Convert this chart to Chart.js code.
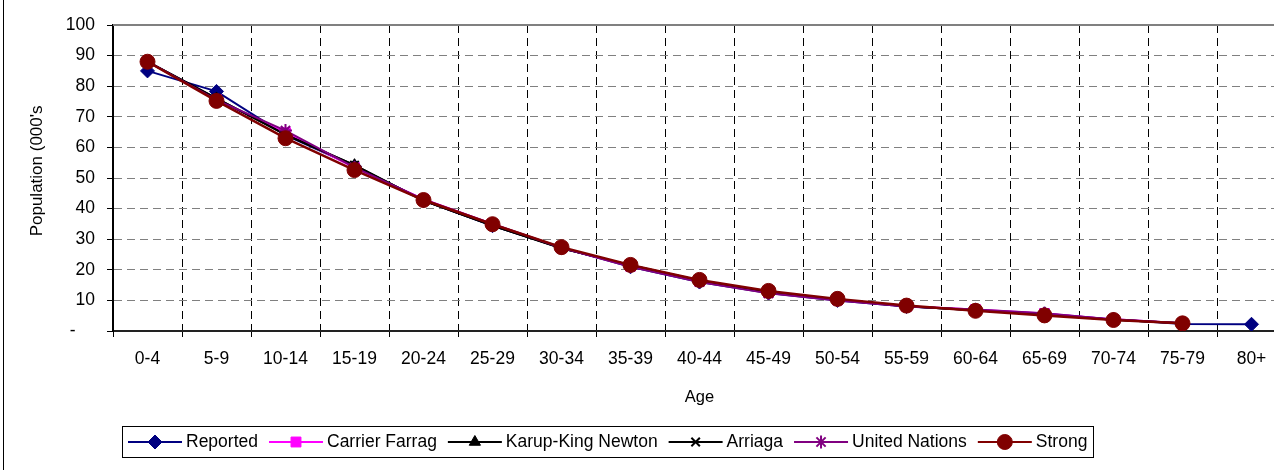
<!DOCTYPE html>
<html>
<head>
<meta charset="utf-8">
<script src="https://cdn.jsdelivr.net/npm/chart.js@4.4.0/dist/chart.umd.min.js"></script>
<style>
  html, body { margin: 0; padding: 0; background: #fff; overflow: hidden; width: 1274px; height: 470px; }
  canvas { display: block; }
</style>
</head>
<body>
<canvas id="c" width="1300" height="470"></canvas>
<script>
// Age groups on the x axis
const ageGroups = ['0-4', '5-9', '10-14', '15-19', '20-24', '25-29', '30-34', '35-39', '40-44',
                   '45-49', '50-54', '55-59', '60-64', '65-69', '70-74', '75-79', '80+'];

// Population (thousands) by method
const reported        = [85.0, 78.3, 64.0, 53.8, 42.6, 34.4, 27.3, 21.0, 16.0, 12.4, 10.0, 8.0, 6.9, 5.6, 3.8, 2.3, 2.2];
const carrierFarrag   = [88.0, 75.6, 64.8, 53.4, 43.1, 35.0, 27.2, 21.2, 16.3, 12.6, 10.2, 8.1, 7.0, 5.7, 3.8, 2.5, null];
const karupKingNewton = [88.0, 76.0, 64.2, 54.2, 42.6, 34.5, 27.0, 21.5, 16.5, 12.8, 10.2, 8.1, 6.8, 5.4, 3.7, 2.5, null];
const arriaga         = [88.0, 76.0, 64.2, 54.2, 42.6, 34.5, 27.0, 21.5, 16.5, 12.8, 10.2, 8.1, 6.8, 5.4, 3.7, 2.5, null];
const unitedNations   = [88.0, 75.5, 65.5, 53.5, 43.0, 35.0, 27.2, 21.0, 16.0, 12.3, 10.0, 8.0, 7.0, 5.8, 3.8, 2.5, null];
const strong          = [88.0, 75.2, 63.0, 52.6, 42.8, 34.9, 27.4, 21.6, 16.7, 13.1, 10.5, 8.3, 6.6, 5.1, 3.6, 2.5, null];

const FONT = '"Liberation Sans", Arial, sans-serif';

function series(label, data, color, style, radius, order, bw, lw) {
  return {
    label, data, order,
    borderColor: color, backgroundColor: color,
    pointBackgroundColor: color, pointBorderColor: color,
    pointStyle: style, pointRadius: radius, pointHoverRadius: radius,
    pointBorderWidth: bw, borderWidth: lw, tension: 0, fill: false
  };
}

// Frame line, plot-area top border and a boxed legend with line + marker samples
const decorations = {
  id: 'decorations',
  beforeDraw(chart) {
    const ctx = chart.ctx;
    ctx.save();
    ctx.strokeStyle = '#000';
    ctx.lineWidth = 1;
    ctx.beginPath();
    ctx.moveTo(3.5, 0);
    ctx.lineTo(3.5, chart.height);
    ctx.stroke();
    ctx.restore();
  },
  beforeDatasetsDraw(chart) {
    const ctx = chart.ctx, a = chart.chartArea;
    ctx.save();
    ctx.strokeStyle = '#808080';
    ctx.lineWidth = 2;
    ctx.beginPath();
    ctx.moveTo(a.left, a.top);
    ctx.lineTo(a.right, a.top);
    ctx.lineTo(a.right, a.bottom);
    ctx.stroke();
    ctx.restore();
  },
  afterDraw(chart) {
    const ctx = chart.ctx;
    const sets = chart.data.datasets;
    ctx.save();
    ctx.font = '17.5px ' + FONT;
    const lineLen = 54, gapText = 4, gapItem = 11, padX = 6;
    const widths = sets.map(d => ctx.measureText(d.label).width);
    const total = padX * 2 + widths.reduce((s, w) => s + lineLen + gapText + w, 0) + gapItem * (sets.length - 1);
    const boxL = Math.round(608 - total / 2), boxT = 426, boxH = 31;
    ctx.strokeStyle = '#000';
    ctx.lineWidth = 1;
    ctx.strokeRect(boxL + 0.5, boxT + 0.5, Math.round(total), boxH);
    let x = boxL + padX;
    const cy = boxT + boxH / 2 + 0.5;
    sets.forEach((d, i) => {
      ctx.strokeStyle = d.borderColor;
      ctx.lineWidth = 2;
      ctx.beginPath();
      ctx.moveTo(x, cy);
      ctx.lineTo(x + lineLen, cy);
      ctx.stroke();
      ctx.fillStyle = d.pointBackgroundColor;
      ctx.strokeStyle = d.pointBorderColor;
      ctx.lineWidth = d.pointBorderWidth;
      Chart.helpers.drawPoint(ctx, {
        pointStyle: d.pointStyle, radius: d.pointRadius, rotation: 0, borderWidth: d.pointBorderWidth
      }, x + lineLen / 2, cy);
      ctx.fillStyle = '#000';
      ctx.textAlign = 'left';
      ctx.textBaseline = 'middle';
      ctx.fillText(d.label, x + lineLen + gapText, cy);
      x += lineLen + gapText + widths[i] + gapItem;
    });
    ctx.restore();
  }
};

new Chart(document.getElementById('c'), {
  type: 'line',
  data: {
    labels: ageGroups,
    datasets: [
      series('Reported', reported, '#000080', 'rectRot', 7, 5, 1, 2),
      series('Carrier Farrag', carrierFarrag, '#FF00FF', 'rect', 7, 4, 1, 2),
      series('Karup-King Newton', karupKingNewton, '#000000', 'triangle', 6.5, 3, 1, 2),
      series('Arriaga', arriaga, '#000000', 'crossRot', 6, 2, 2, 2),
      series('United Nations', unitedNations, '#800080', 'star', 6.5, 1, 2, 2),
      series('Strong', strong, '#800000', 'circle', 7.5, 0, 1, 2.5)
    ]
  },
  options: {
    responsive: false,
    animation: false,
    devicePixelRatio: 1,
    layout: { padding: { top: 25, right: 14, bottom: 60, left: 0 } },
    plugins: { legend: { display: false }, tooltip: { enabled: false } },
    scales: {
      x: {
        type: 'category',
        offset: true,
        grid: { offset: true, color: '#000', lineWidth: 1, tickLength: 6, tickColor: '#000' },
        border: { display: true, color: '#222', width: 2, dash: [8, 5] },
        ticks: { color: '#000', font: { family: FONT, size: 17.5 }, padding: 12, maxRotation: 0, autoSkip: false },
        title: { display: true, text: 'Age', color: '#000', font: { family: FONT, size: 16.5 }, padding: { top: 0, bottom: 3 } },
        afterFit(s) { s.height = 79; }
      },
      y: {
        min: 0, max: 100,
        grid: { color: '#808080', lineWidth: 1, tickLength: 6, tickColor: '#000' },
        border: { display: true, color: '#000', width: 2, dash: [8, 5] },
        ticks: {
          stepSize: 10, color: '#000', font: { family: FONT, size: 17.5 }, padding: 12,
          callback: v => (v === 0 ? '-    ' : String(v))
        },
        title: { display: true, text: "   Population (000's", color: '#000', font: { family: FONT, size: 17 }, padding: { top: 27, bottom: 0 } },
        afterFit(s) { s.width = 113; }
      }
    }
  },
  plugins: [decorations]
});
</script>
</body>
</html>
